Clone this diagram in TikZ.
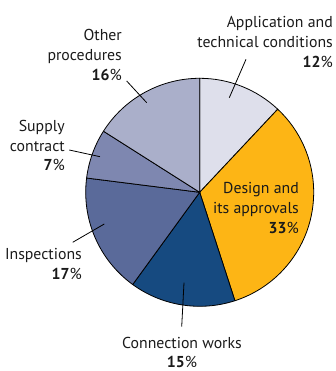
\documentclass[tikz,border=0pt]{standalone}
\usepackage{fontspec}
\setmainfont{PT Sans}
\definecolor{cApp}{HTML}{DEDFEB}
\definecolor{cDes}{HTML}{FDB515}
\definecolor{cCon}{HTML}{164A80}
\definecolor{cIns}{HTML}{5A6A9A}
\definecolor{cSup}{HTML}{7E87B0}
\definecolor{cOth}{HTML}{AAAFCA}
\definecolor{txt}{HTML}{1A1A1A}
\tikzset{
  slice/.style={draw=black, line width=0.8pt, line join=round},
  lbl/.style={inner sep=0pt, text=txt, font=\fontsize{15.8}{19.8}\selectfont},
  leader/.style={draw=black, line width=0.8pt},
}
\newcommand{\pieslice}[3]{%
  \path[slice, fill=#3] (C) -- ++(#1:114pt) arc[start angle=#1, end angle=#2, radius=114pt] -- cycle;}
\begin{document}
\begin{tikzpicture}[x=1pt,y=1pt]
\useasboundingbox (0,0) rectangle (336,371);
\coordinate (C) at (199.7,178.7);
\pieslice{90}{46.8}{cApp}
\pieslice{46.8}{-72}{cDes}
\pieslice{-72}{-126}{cCon}
\pieslice{-126}{-187.2}{cIns}
\pieslice{172.8}{147.6}{cSup}
\pieslice{147.6}{90}{cOth}

\node[lbl, anchor=east, align=right] (app) at (333,329) {Application and\\technical conditions\\\textbf{12}\%};
\node[lbl, anchor=east, align=right] (oth) at (122,316.3) {Other\\procedures\\\textbf{16}\%};
\node[lbl, anchor=east, align=right] (sup) at (65,225.4) {Supply\\contract\\\textbf{7}\%};
\node[lbl, anchor=east, align=right] (des) at (299,163) {Design and\\its approvals\\\textbf{33}\%};
\node[lbl, anchor=east, align=right] (ins) at (82,107.3) {Inspections\\\textbf{17}\%};
\node[lbl, anchor=center, align=center] (con) at (182,18.5) {Connection works\\\textbf{15}\%};

\coordinate (appA) at (246,311.7); \coordinate (appB) at (229.3,273.3);
\coordinate (othA) at (126.7,290); \coordinate (othB) at (146.7,268.3);
\coordinate (supA) at (69.3,221); \coordinate (supB) at (100,214.3);
\coordinate (insA) at (72.7,128.7); \coordinate (insB) at (104.3,147);
\coordinate (conA) at (181.7,44.3); \coordinate (conB) at (184,88.3);
\draw[leader] (appA) -- (appB);
\draw[leader] (othA) -- (othB);
\draw[leader] (supA) -- (supB);
\draw[leader] (insA) -- (insB);
\draw[leader] (conA) -- (conB);
\end{tikzpicture}
\end{document}
